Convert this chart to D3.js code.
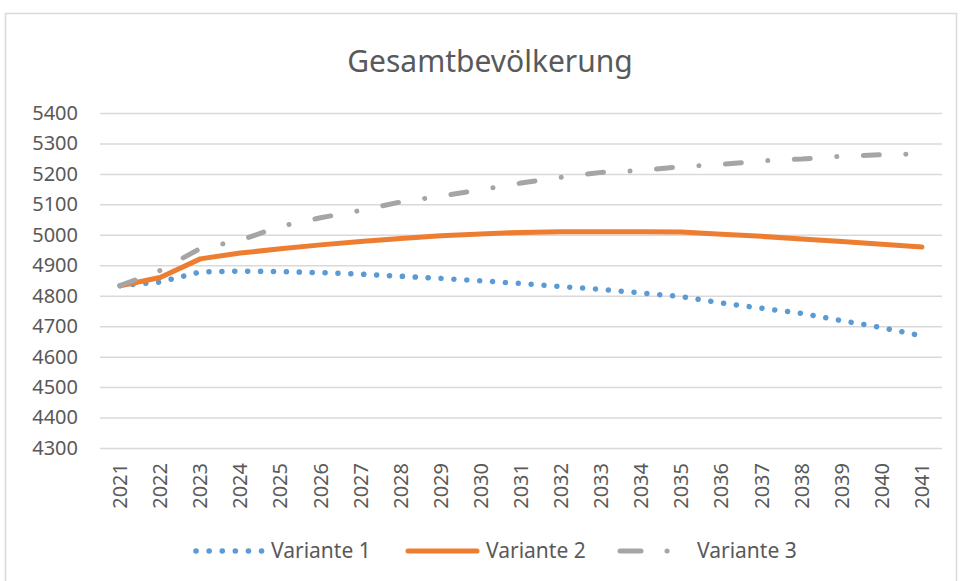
<!DOCTYPE html>
<html>
<head>
<meta charset="utf-8">
<script src="https://cdn.jsdelivr.net/npm/d3@7"></script>
<style>
  body { margin: 0; background: #fff; }
  svg { display: block; font-family: "Noto Sans", "Open Sans", sans-serif; }
</style>
</head>
<body>
<div class="chart-container"></div>
<script>
// data
const years = ["2021","2022","2023","2024","2025","2026","2027","2028","2029","2030","2031",
               "2032","2033","2034","2035","2036","2037","2038","2039","2040","2041"];
const variante1 = [4833, 4845, 4878, 4881, 4879, 4876, 4871, 4864, 4857, 4849, 4840,
                   4830, 4821, 4809, 4797, 4776, 4759, 4742, 4718, 4695, 4668];
const variante2 = [4833, 4860, 4921, 4940, 4954, 4967, 4978, 4988, 4997, 5003, 5008,
                   5010, 5010, 5010, 5009, 5002, 4995, 4986, 4978, 4969, 4960];
const variante3 = [4833, 4883, 4955, 4982, 5028, 5056, 5080, 5108, 5127, 5148, 5170,
                   5189, 5205, 5211, 5224, 5231, 5243, 5249, 5258, 5263, 5266];
const yTicks = [4300, 4400, 4500, 4600, 4700, 4800, 4900, 5000, 5100, 5200, 5300, 5400];
const seriesNames = ["Variante 1", "Variante 2", "Variante 3"];

const width = 961, height = 581;
const plot = {left: 100, right: 942, top: 113, bottom: 448};

const svg = d3.select(".chart-container").append("svg")
  .attr("width", width).attr("height", height);

// outer chart border
svg.append("rect")
  .attr("x", 5.5).attr("y", 13.5)
  .attr("width", 951).attr("height", 575)
  .attr("fill", "#fff").attr("stroke", "#d9d9d9").attr("stroke-width", 1.5);

svg.append("text")
  .attr("x", 490).attr("y", 72)
  .attr("text-anchor", "middle")
  .attr("font-size", 30).attr("fill", "#595959")
  .text("Gesamtbevölkerung");

const x = d3.scaleBand().domain(years).range([plot.left, plot.right]);
const y = d3.scaleLinear().domain([4300, 5400]).range([plot.bottom, plot.top]);
const cx = d => x(d) + x.bandwidth() / 2;

// gridlines
const grid = svg.append("g")
  .attr("transform", "translate(" + plot.left + ",0)")
  .call(d3.axisLeft(y).tickValues(yTicks).tickSize(-(plot.right - plot.left)).tickFormat(""));
grid.select(".domain").remove();
grid.selectAll(".tick line").attr("stroke", "#d9d9d9").attr("stroke-width", 1.5);

// y labels
const yAxis = svg.append("g")
  .attr("transform", "translate(" + 86 + ",0)")
  .call(d3.axisLeft(y).tickValues(yTicks).tickSize(0).tickPadding(8).tickFormat(d3.format("d")));
yAxis.select(".domain").remove();
yAxis.selectAll("text").attr("font-size", 20).attr("fill", "#595959")
  .attr("font-family", "Noto Sans, sans-serif");

// x labels
const xAxis = svg.append("g")
  .attr("transform", "translate(0," + plot.bottom + ")")
  .call(d3.axisBottom(x).tickSize(0));
xAxis.select(".domain").remove();
xAxis.selectAll("text")
  .attr("font-size", 20).attr("fill", "#595959")
  .attr("font-family", "Noto Sans, sans-serif")
  .attr("transform", "rotate(-90)")
  .attr("text-anchor", "end")
  .attr("x", -15).attr("y", 0).attr("dy", "0.35em");

const line = d3.line().x((d, i) => cx(years[i])).y(d => y(d));

const styles = [
  {data: variante1, color: "#5B9BD5", dash: "0.1 12.8", w: 5.5},
  {data: variante2, color: "#ED7D31", dash: null, w: 5},
  {data: variante3, color: "#A5A5A5", dash: "16 26.5 0.1 26.5", w: 5}
];

styles.forEach(function(s){
  svg.append("path")
    .datum(s.data)
    .attr("d", line)
    .attr("fill", "none")
    .attr("stroke", s.color)
    .attr("stroke-width", s.w)
    .attr("stroke-linecap", "round")
    .attr("stroke-linejoin", "round")
    .attr("stroke-dasharray", s.dash);
});

// legend
const legendY = 551;
const legendItems = [
  {x1: 196, x2: 262, tx: 271, dash: "0.1 13"},
  {x1: 408, x2: 477, tx: 486, dash: null},
  {x1: 620, x2: 672, tx: 697, dash: "21 26 0.1 100"}
];
legendItems.forEach(function(l, i){
  svg.append("line")
    .attr("x1", l.x1).attr("x2", l.x2)
    .attr("y1", legendY).attr("y2", legendY)
    .attr("stroke", styles[i].color)
    .attr("stroke-width", styles[i].w)
    .attr("stroke-linecap", "round")
    .attr("stroke-dasharray", l.dash);
  svg.append("text")
    .attr("x", l.tx).attr("y", legendY).attr("dy", "0.35em")
    .attr("font-size", 21).attr("fill", "#595959")
    .text(seriesNames[i]);
});
</script>
</body>
</html>
